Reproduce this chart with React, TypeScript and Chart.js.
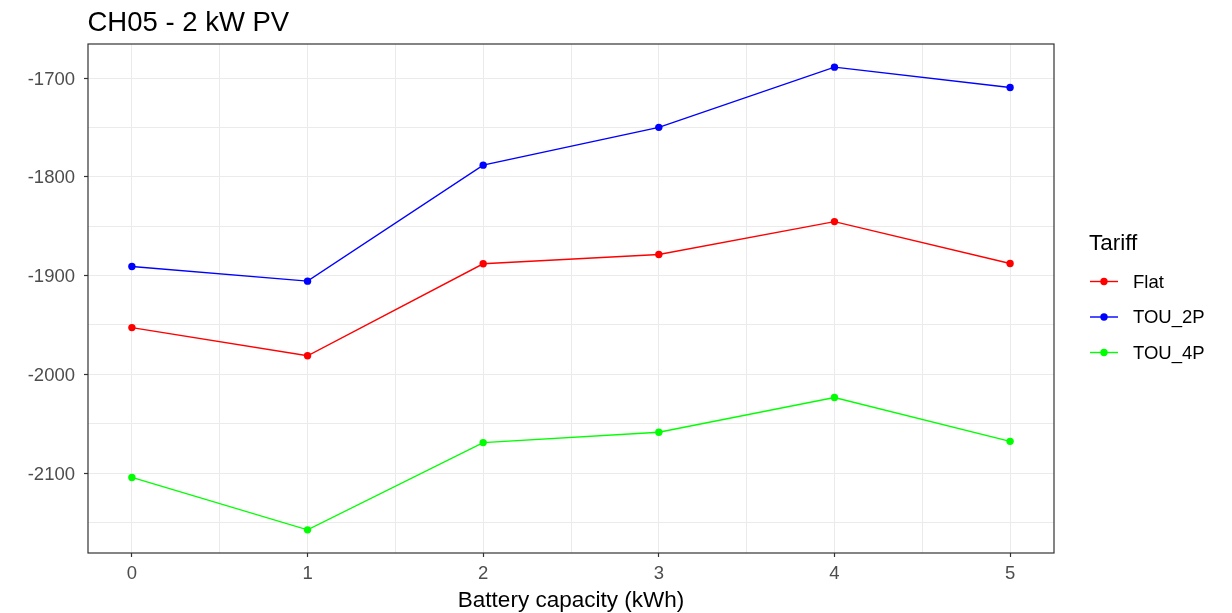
import React, { useEffect, useRef } from "react";
import { Chart, registerables } from "chart.js";

Chart.register(...registerables);

const titleText = "CH05 - 2 kW PV";
const xTitle = "Battery capacity (kWh)";
const legendTitle = "Tariff";
const capacities = [0, 1, 2, 3, 4, 5];
const seriesNames = ["Flat", "TOU_2P", "TOU_4P"];
const seriesColors = ["#FF0000", "#0000FF", "#00FF00"];
const flatValues = [-1952.7, -1981.2, -1888.0, -1878.6, -1845.3, -1887.7];
const tou2pValues = [-1890.8, -1905.6, -1788.1, -1749.8, -1688.8, -1709.5];
const tou4pValues = [-2104.5, -2157.6, -2069.2, -2058.7, -2023.5, -2067.9];
const xGridValues = [0, 0.5, 1, 1.5, 2, 2.5, 3, 3.5, 4, 4.5, 5];
const yGridValues = [-2150, -2100, -2050, -2000, -1950, -1900, -1850, -1800, -1750, -1700];

const FONT = '"Liberation Sans", Arial, sans-serif';

export default function App() {
  const ref = useRef<HTMLCanvasElement | null>(null);

  useEffect(() => {
    const canvas = ref.current;
    if (!canvas) return;
    const all = [...flatValues, ...tou2pValues, ...tou4pValues];
    const lo = Math.min(...all);
    const hi = Math.max(...all);
    const ex = (hi - lo) * 0.05;
    const xr = capacities[capacities.length - 1] - capacities[0];

    const valuesList = [flatValues, tou2pValues, tou4pValues];
    const datasets = seriesNames.map((name, i) => ({
      label: name,
      data: capacities.map((c, j) => ({ x: c, y: valuesList[i][j] })),
      borderColor: seriesColors[i],
      backgroundColor: seriesColors[i],
      borderWidth: 1.4,
      pointRadius: 3.7,
      pointBorderWidth: 0,
      pointBackgroundColor: seriesColors[i],
      tension: 0,
    }));

    const decor = {
      id: "decor",
      afterDatasetsDraw(chart: any) {
        const { ctx, chartArea } = chart;
        ctx.save();
        ctx.strokeStyle = "#333333";
        ctx.lineWidth = 1.2;
        ctx.strokeRect(chartArea.left, chartArea.top, chartArea.right - chartArea.left, chartArea.bottom - chartArea.top);
        ctx.restore();
      },
      afterDraw(chart: any) {
        const { ctx, chartArea } = chart;
        ctx.save();
        ctx.fillStyle = "#000000";
        ctx.textAlign = "left";
        ctx.textBaseline = "alphabetic";
        ctx.font = `27.5px ${FONT}`;
        ctx.fillText(titleText, 87.5, 31);

        ctx.font = `22.5px ${FONT}`;
        ctx.textAlign = "center";
        ctx.fillText(xTitle, (chartArea.left + chartArea.right) / 2, 606.5);

        ctx.textAlign = "left";
        ctx.fillText(legendTitle, 1089, 250);

        const ys = [281.5, 317, 352.5];
        seriesNames.forEach((name, i) => {
          const y = ys[i];
          ctx.strokeStyle = seriesColors[i];
          ctx.lineWidth = 1.4;
          ctx.beginPath();
          ctx.moveTo(1090, y);
          ctx.lineTo(1118, y);
          ctx.stroke();
          ctx.fillStyle = seriesColors[i];
          ctx.beginPath();
          ctx.arc(1104, y, 3.7, 0, Math.PI * 2);
          ctx.fill();
          ctx.fillStyle = "#000000";
          ctx.font = `18.5px ${FONT}`;
          ctx.textBaseline = "middle";
          ctx.fillText(name, 1133, y + 1);
        });
        ctx.restore();
      },
    };

    const chart = new Chart(canvas, {
      type: "line",
      data: { datasets },
      options: {
        responsive: false,
        animation: false,
        layout: { padding: { top: 44, right: 178, left: 0, bottom: 0 } },
        plugins: {
          legend: { display: false },
          title: { display: false },
          tooltip: { enabled: false },
        },
        scales: {
          x: {
            type: "linear",
            min: capacities[0] - xr * 0.05,
            max: capacities[capacities.length - 1] + xr * 0.05,
            afterBuildTicks: (axis: any) => {
              axis.ticks = xGridValues.map((v) => ({ value: v }));
            },
            afterFit: (axis: any) => {
              axis.height = 60;
            },
            border: { display: false },
            grid: {
              color: "#ebebeb",
              lineWidth: 1,
              tickLength: 4,
              tickColor: (c: any) => (Number.isInteger(c.tick?.value) ? "#333333" : "rgba(0,0,0,0)"),
              tickWidth: 1.2,
            },
            ticks: {
              autoSkip: false,
              maxRotation: 0,
              padding: 6,
              color: "#4d4d4d",
              font: { family: FONT, size: 18.5 },
              callback: (v: any) => (Number.isInteger(v) ? String(v) : ""),
            },
          },
          y: {
            type: "linear",
            min: lo - ex,
            max: hi + ex,
            afterBuildTicks: (axis: any) => {
              axis.ticks = yGridValues.map((v) => ({ value: v }));
            },
            afterFit: (axis: any) => {
              axis.width = 88;
            },
            border: { display: false },
            grid: {
              color: "#ebebeb",
              lineWidth: 1,
              tickLength: 4,
              tickColor: (c: any) => (c.tick && c.tick.value % 100 === 0 ? "#333333" : "rgba(0,0,0,0)"),
              tickWidth: 1.2,
            },
            ticks: {
              autoSkip: false,
              padding: 9,
              labelOffset: 1.5,
              color: "#4d4d4d",
              font: { family: FONT, size: 18.5 },
              callback: (v: any) => (v % 100 === 0 ? String(v) : ""),
            },
          },
        },
      },
      plugins: [decor],
    });
    return () => chart.destroy();
  }, []);

  return (
    <div style={{ position: "absolute", left: 0, top: 0, width: 1232, height: 613, background: "#ffffff" }}>
      <canvas ref={ref} width={1232} height={613} style={{ display: "block" }} />
    </div>
  );
}
